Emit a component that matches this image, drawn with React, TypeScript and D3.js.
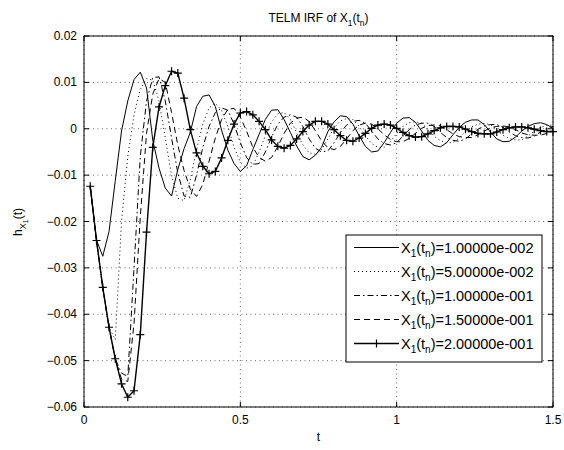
import React from "react";
import * as d3 from "d3";

// samples every 0.02 starting at t = 0.02
const tStart = 0.02;
const tStep = 0.02;

const irf1 = [
  -0.0125, -0.024, -0.0275, -0.0222, -0.0112, -0.0005, 0.006, 0.0106, 0.0122, 0.0088,
  -0.0025, -0.0085, -0.0128, -0.0145, -0.0088, -0.0043, -0.0008, 0.0048, 0.007, 0.0073,
  0.0048, -0.0003, -0.0046, -0.0075, -0.0092, -0.008, -0.0045, -0.0012, 0.002, 0.004,
  0.0041, 0.002, -0.0008, -0.0037, -0.006, -0.0067, -0.0057, -0.004, -0.0006, 0.0015,
  0.0028, 0.0026, 0.001, -0.0015, -0.0038, -0.005, -0.0048, -0.003, -0.0008, 0.0012,
  0.0023, 0.0024, 0.0014, -0.0005, -0.0025, -0.0036, -0.0039, -0.003, -0.0013, 0.0003,
  0.0014, 0.0019, 0.0019, 0.0009, -0.0007, -0.0022, -0.0028, -0.0027, -0.0018, -0.0005,
  0.0005, 0.0011, 0.0013, 0.0009, 0.0001,
];

const irf2 = [
  -0.0125, -0.0241, -0.0342, -0.0428, -0.0455, -0.02, -0.006, 0.003, 0.0085, 0.0108,
  0.0105, 0.006, -0.002, -0.01, -0.015, -0.0155, -0.011, -0.0045, 0.001, 0.0045,
  0.0055, 0.004, 0.0005, -0.004, -0.0072, -0.0085, -0.008, -0.005, -0.0015, 0.0015,
  0.0032, 0.0035, 0.002, -0.0008, -0.0035, -0.0052, -0.0055, -0.0045, -0.0022, 0.0002,
  0.0017, 0.0022, 0.002, 0.0005, -0.0015, -0.0032, -0.004, -0.004, -0.0028, -0.001,
  0.0005, 0.0013, 0.0015, 0.0012, -0.0001, -0.0016, -0.0026, -0.003, -0.003, -0.002,
  -0.0006, 0.0004, 0.001, 0.0011, 0.0009, -0.0002, -0.0014, -0.0021, -0.0024, -0.0024,
  -0.0016, -0.0005, 0.0003, 0.0007, 0.0008,
];

const irf3 = [
  -0.0125, -0.0241, -0.0342, -0.0428, -0.0496, -0.0527, -0.0534, -0.03, -0.006, 0.006,
  0.011, 0.0112, 0.006, -0.002, -0.0095, -0.0145, -0.0148, -0.01, -0.004, 0.0005,
  0.0035, 0.0045, 0.004, 0.001, -0.003, -0.0062, -0.0077, -0.0075, -0.005, -0.0018,
  0.001, 0.0025, 0.003, 0.0025, 0.0005, -0.0022, -0.0042, -0.005, -0.0048, -0.003,
  -0.0008, 0.0008, 0.0016, 0.0018, 0.0012, -0.0005, -0.0022, -0.0032, -0.0035, -0.003,
  -0.0016, -0.0002, 0.0008, 0.0012, 0.0012, 0.0005, -0.0008, -0.0019, -0.0025, -0.0027,
  -0.0022, -0.0011, -0.0001, 0.0006, 0.0009, 0.0009, 0.0003, -0.0007, -0.0015, -0.0019,
  -0.002, -0.0016, -0.0007, 0.0001, 0.0005,
];

const irf4 = [
  -0.0125, -0.0241, -0.0342, -0.0428, -0.0496, -0.054, -0.0545, -0.042, -0.019, -0.001,
  0.0075, 0.0108, 0.01, 0.0035, -0.0035, -0.009, -0.013, -0.0146, -0.012, -0.007,
  -0.002, 0.002, 0.0042, 0.0044, 0.0025, -0.0005, -0.004, -0.0062, -0.007, -0.0062,
  -0.0038, -0.001, 0.0012, 0.0023, 0.0025, 0.0016, -0.0004, -0.0026, -0.0041, -0.0045,
  -0.0038, -0.0022, -0.0004, 0.0008, 0.0012, 0.001, 0.0, -0.0013, -0.0023, -0.0028,
  -0.0028, -0.0021, -0.001, 0.0001, 0.0007, 0.0008, 0.0006, -0.0002, -0.0011, -0.0017,
  -0.0019, -0.0019, -0.0013, -0.0005, 0.0002, 0.0005, 0.0006, 0.0004, -0.0002, -0.0009,
  -0.0013, -0.0014, -0.0014, -0.001, -0.0004,
];

const irf5 = [
  -0.0124, -0.0241, -0.0342, -0.0428, -0.0496, -0.055, -0.0579, -0.0565, -0.0444, -0.0223,
  -0.004, 0.0047, 0.0093, 0.0124, 0.012, 0.0066, -0.0002, -0.0052, -0.0081, -0.0097,
  -0.0092, -0.0063, -0.0025, 0.001, 0.0034, 0.0037, 0.003, 0.0016, -0.0002, -0.0024,
  -0.0038, -0.0042, -0.0036, -0.0022, -0.0006, 0.0008, 0.0016, 0.0016, 0.001, -0.0002,
  -0.0015, -0.0025, -0.0027, -0.002, -0.001, 0.0001, 0.0008, 0.001, 0.0008, 0.0001,
  -0.0008, -0.0015, -0.0018, -0.0017, -0.0011, -0.0004, 0.0002, 0.0005, 0.0005, 0.0004,
  -0.0001, -0.0006, -0.001, -0.0011, -0.0011, -0.0007, -0.0002, 0.0002, 0.0004, 0.0004,
  0.0002, -0.0001, -0.0004, -0.0006, -0.0006,
];

const seriesValues = ["1.00000e-002", "5.00000e-002", "1.00000e-001", "1.50000e-001", "2.00000e-001"];

const xTicks = [0, 0.5, 1, 1.5];
const xTickLabels = ["0", "0.5", "1", "1.5"];
const yTicks = [-0.06, -0.05, -0.04, -0.03, -0.02, -0.01, 0, 0.01, 0.02];
const yTickLabels = ["\u22120.06", "\u22120.05", "\u22120.04", "\u22120.03", "\u22120.02", "\u22120.01", "0", "0.01", "0.02"];

const W = 564;
const H = 450;
const left = 84;
const right = 553;
const top = 36;
const bottom = 407;
const font = "'Liberation Sans', Arial, Helvetica, sans-serif";

const styles = [
  { dash: undefined, width: 1 },
  { dash: "1,3", width: 1 },
  { dash: "6,3,1.5,3", width: 1 },
  { dash: "6,4", width: 1 },
  { dash: undefined, width: 1.4 },
];

const Plus = ({ cx, cy, r = 4 }: { cx: number; cy: number; r?: number }) => (
  <path d={`M${cx - r},${cy}H${cx + r}M${cx},${cy - r}V${cy + r}`} stroke="#000" strokeWidth={1.2} />
);

const SubLabel = ({ x, y, value }: { x: number; y: number; value: string }) => (
  <text x={x} y={y} fontSize={14.5} fontFamily={font}>
    X<tspan dy={4} fontSize={10}>1</tspan>
    <tspan dy={-4}>(t</tspan>
    <tspan dy={4} fontSize={10}>n</tspan>
    <tspan dy={-4}>)={value}</tspan>
  </text>
);

export default function App() {
  const x = d3.scaleLinear().domain([0, 1.5]).range([left, right]);
  const y = d3.scaleLinear().domain([-0.06, 0.02]).range([bottom, top]);
  const tAt = (i: number) => tStart + i * tStep;
  const line = d3
    .line<number>()
    .x((_, i) => x(tAt(i)))
    .y((v) => y(v));
  const series = [irf1, irf2, irf3, irf4, irf5];

  const legX = 346;
  const legY = 235;
  const legW = 196;
  const legH = 127;
  const rowY = (i: number) => legY + 12.5 + i * 24;

  return (
    <svg width={W} height={H} style={{ position: "absolute", left: 0, top: 0, background: "#fff" }}>
      <rect x={0} y={0} width={W} height={H} fill="#fff" />

      {/* grid */}
      {xTicks.map((t) => (
        <line key={"gx" + t} x1={x(t)} x2={x(t)} y1={top} y2={bottom} stroke="#444" strokeWidth={0.8} strokeDasharray="1,3.5" />
      ))}
      {yTicks.map((t) => (
        <line key={"gy" + t} x1={left} x2={right} y1={y(t)} y2={y(t)} stroke="#444" strokeWidth={0.8} strokeDasharray="1,3.5" />
      ))}

      {/* series */}
      {series.map((vals, k) => (
        <path key={"s" + k} d={line(vals) || ""} fill="none" stroke="#000" strokeWidth={styles[k].width} strokeDasharray={styles[k].dash} />
      ))}
      {irf5.map((v, i) => (
        <Plus key={"m" + i} cx={x(tAt(i))} cy={y(v)} />
      ))}

      {/* box + ticks */}
      <rect x={left} y={top} width={right - left} height={bottom - top} fill="none" stroke="#000" strokeWidth={1} />
      {xTicks.map((t) => (
        <g key={"tx" + t}>
          <line x1={x(t)} x2={x(t)} y1={bottom} y2={bottom - 5} stroke="#000" />
          <line x1={x(t)} x2={x(t)} y1={top} y2={top + 5} stroke="#000" />
        </g>
      ))}
      {yTicks.map((t) => (
        <g key={"ty" + t}>
          <line x1={left} x2={left + 5} y1={y(t)} y2={y(t)} stroke="#000" />
          <line x1={right} x2={right - 5} y1={y(t)} y2={y(t)} stroke="#000" />
        </g>
      ))}

      {/* tick labels */}
      {xTicks.map((t, i) => (
        <text key={"lx" + t} x={x(t)} y={bottom + 17} textAnchor="middle" fontSize={12} fontFamily={font}>
          {xTickLabels[i]}
        </text>
      ))}
      {yTicks.map((t, i) => (
        <text key={"ly" + t} x={left - 7} y={y(t) + 4} textAnchor="end" fontSize={12} fontFamily={font}>
          {yTickLabels[i]}
        </text>
      ))}

      {/* title and axis labels */}
      <text x={(left + right) / 2} y={22} textAnchor="middle" fontSize={12} fontFamily={font}>
        TELM IRF of X<tspan dy={3.5} fontSize={8.5}>1</tspan>
        <tspan dy={-3.5}>(t</tspan>
        <tspan dy={3.5} fontSize={8.5}>n</tspan>
        <tspan dy={-3.5}>)</tspan>
      </text>
      <text x={(left + right) / 2} y={441} textAnchor="middle" fontSize={12} fontFamily={font}>
        t
      </text>
      <text transform={`translate(22,222) rotate(-90)`} textAnchor="middle" fontSize={12} fontFamily={font}>
        h<tspan dy={3.5} fontSize={9}>X</tspan>
        <tspan dy={2.5} fontSize={7}>1</tspan>
        <tspan dy={-6}>(t)</tspan>
      </text>

      {/* legend */}
      <rect x={legX} y={legY} width={legW} height={legH} fill="#fff" stroke="#000" strokeWidth={1} />
      {seriesValues.map((v, i) => (
        <g key={"lg" + i}>
          <line x1={legX + 8} x2={legX + 53} y1={rowY(i)} y2={rowY(i)} stroke="#000" strokeWidth={styles[i].width} strokeDasharray={styles[i].dash} />
          {i === 4 && <Plus cx={legX + 30.5} cy={rowY(i)} />}
          <SubLabel x={legX + 55} y={rowY(i) + 5} value={v} />
        </g>
      ))}
    </svg>
  );
}
